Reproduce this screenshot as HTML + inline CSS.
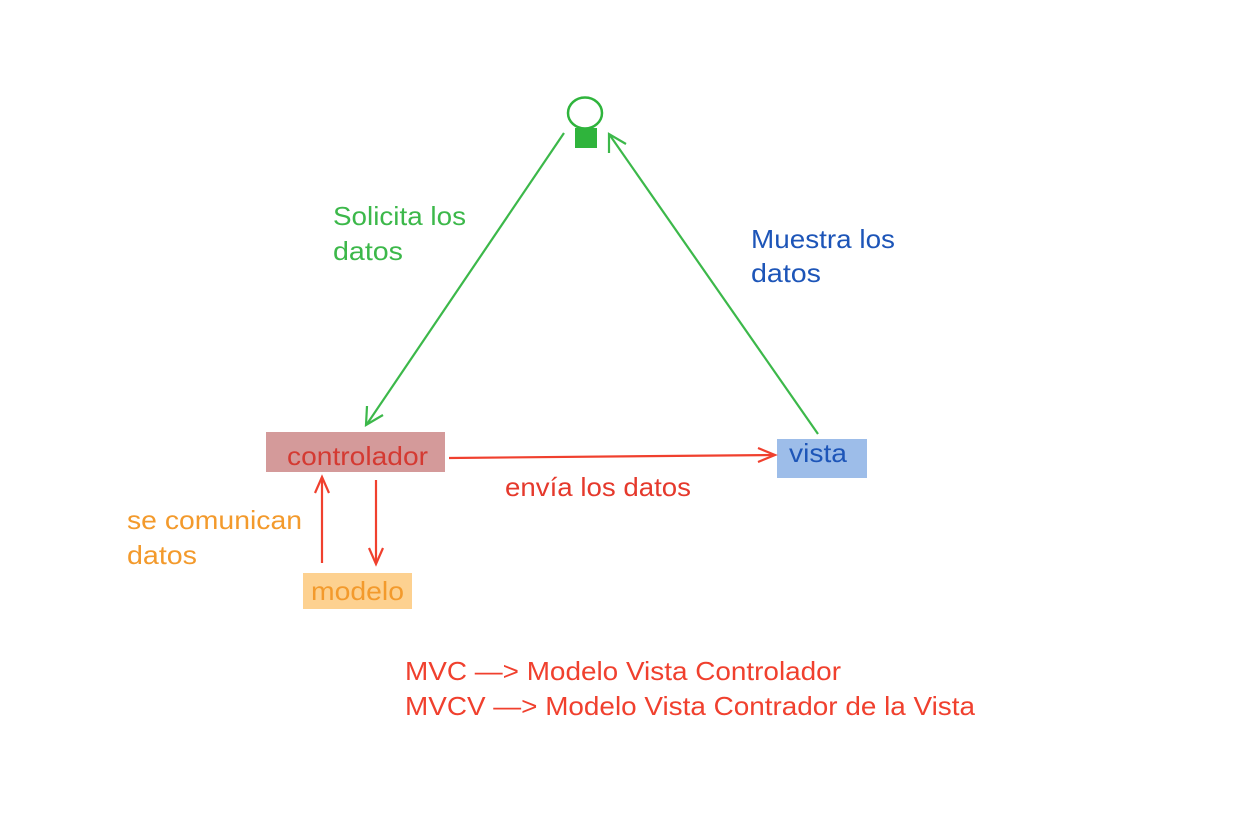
<!DOCTYPE html>
<html><head><meta charset="utf-8"><style>
html,body{margin:0;padding:0;background:#fff;}
svg{display:block;}
text{font-family:"Liberation Sans",Arial,sans-serif;}
</style></head><body>
<svg width="1239" height="839" viewBox="0 0 1239 839" xmlns="http://www.w3.org/2000/svg">
<rect width="1239" height="839" fill="#fff"/>
<ellipse cx="585" cy="113" rx="17" ry="15.5" fill="none" stroke="#2fb43c" stroke-width="2.5"/>
<rect x="575" y="128" width="22" height="20" fill="#2fb43c"/>
<g stroke="#3cb84a" stroke-width="2.2" fill="none">
<line x1="564" y1="133" x2="367" y2="424"/>
<polyline points="367,406 366,425 383,415"/>
<line x1="818" y1="434" x2="609" y2="134"/>
<polyline points="609,153 609,134 626,144"/>
</g>
<g font-size="26" lengthAdjust="spacingAndGlyphs">
<text x="333" y="225" fill="#3cb84a" textLength="133" lengthAdjust="spacingAndGlyphs">Solicita los</text>
<text x="333" y="260" fill="#3cb84a" textLength="70" lengthAdjust="spacingAndGlyphs">datos</text>
<text x="751" y="248" fill="#1d55b8" textLength="144" lengthAdjust="spacingAndGlyphs">Muestra los</text>
<text x="751" y="282" fill="#1d55b8" textLength="70" lengthAdjust="spacingAndGlyphs">datos</text>
</g>
<rect x="266" y="432" width="179" height="40" fill="#d49a9a"/>
<text x="287" y="465" font-size="26" fill="#d43a32" textLength="141" lengthAdjust="spacingAndGlyphs">controlador</text>
<rect x="777" y="439" width="90" height="39" fill="#9dbde9"/>
<text x="789" y="462" font-size="26" fill="#1d55b8" textLength="58" lengthAdjust="spacingAndGlyphs">vista</text>
<g stroke="#f0402e" stroke-width="2.2" fill="none">
<line x1="449" y1="458" x2="774" y2="455"/>
<polyline points="758,448 775,455 758,462"/>
<line x1="322" y1="563" x2="322" y2="478"/>
<polyline points="315,493 322,477 329,493"/>
<line x1="376" y1="480" x2="376" y2="563"/>
<polyline points="369,548 376,564 383,548"/>
</g>
<text x="505" y="496" font-size="26" fill="#e5392c" textLength="186" lengthAdjust="spacingAndGlyphs">envía los datos</text>
<text x="127" y="529" font-size="26" fill="#f39a2c" textLength="175" lengthAdjust="spacingAndGlyphs">se comunican</text>
<text x="127" y="564" font-size="26" fill="#f39a2c" textLength="70" lengthAdjust="spacingAndGlyphs">datos</text>
<rect x="303" y="573" width="109" height="36" fill="#fdd190"/>
<text x="311" y="600" font-size="26" fill="#f39a2c" textLength="93" lengthAdjust="spacingAndGlyphs">modelo</text>
<text x="405" y="680" font-size="26" fill="#f0402e" textLength="436" lengthAdjust="spacingAndGlyphs">MVC —&gt; Modelo Vista Controlador</text>
<text x="405" y="715" font-size="26" fill="#f0402e" textLength="570" lengthAdjust="spacingAndGlyphs">MVCV —&gt; Modelo Vista Contrador de la Vista</text>
</svg>
</body></html>
